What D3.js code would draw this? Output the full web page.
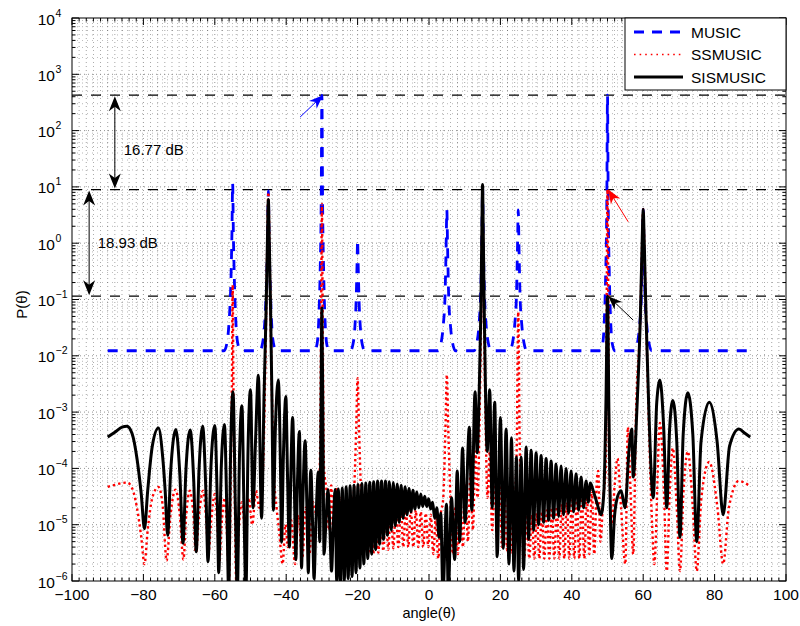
<!DOCTYPE html>
<html>
<head>
<meta charset="utf-8">
<script src="https://cdn.jsdelivr.net/npm/d3@7"></script>
<style>
  body { margin: 0; background: #fff; }
  svg { font-family: "Liberation Sans", Arial, Helvetica, sans-serif; }
</style>
</head>
<body>
<svg id="chart" width="800" height="626"></svg>
<script>
// ---- data ---------------------------------------------------------------
const xTickValues = [-100, -80, -60, -40, -20, 0, 20, 40, 60, 80, 100];
const yExponents = [-6, -5, -4, -3, -2, -1, 0, 1, 2, 3, 4];
const seriesNames = ["MUSIC", "SSMUSIC", "SISMUSIC"];

// MUSIC spectrum: flat floor with narrow peaks
const musicData = [
  [-90, 0.0123], [-57.4, 0.0123], [-56.6, 0.017], [-56.0, 0.04], [-55.5, 0.2], [-55.2, 1.5], [-55.0, 11.5], [-54.8, 1.5], [-54.5, 0.2], [-54.1, 0.04], [-53.6, 0.017], [-52.8, 0.0123],
  [-47.4, 0.0123], [-46.6, 0.017], [-46.0, 0.04], [-45.5, 0.2], [-45.2, 1.2], [-45.0, 8.5], [-44.8, 1.2], [-44.5, 0.2], [-44.1, 0.04], [-43.6, 0.017], [-42.8, 0.0123],
  [-32.0, 0.0123], [-31.3, 0.017], [-30.9, 0.04], [-30.5, 0.3], [-30.2, 5], [-30.0, 425], [-29.8, 5], [-29.5, 0.3], [-29.1, 0.04], [-28.7, 0.017], [-28.0, 0.0123],
  [-22.0, 0.0123], [-21.3, 0.016], [-20.8, 0.03], [-20.4, 0.1], [-20.15, 0.45], [-20.0, 1.15], [-19.85, 0.45], [-19.6, 0.1], [-19.2, 0.03], [-18.7, 0.016], [-18.0, 0.0123],
  [2.6, 0.0123], [3.4, 0.017], [4.0, 0.035], [4.5, 0.12], [4.8, 0.9], [5.0, 3.9], [5.2, 0.9], [5.5, 0.12], [6.0, 0.035], [6.6, 0.017], [7.4, 0.0123],
  [12.6, 0.0123], [13.4, 0.017], [14.0, 0.035], [14.5, 0.15], [14.8, 1.2], [15.0, 10], [15.2, 1.2], [15.5, 0.15], [16.0, 0.035], [16.6, 0.017], [17.4, 0.0123],
  [22.6, 0.0123], [23.4, 0.017], [24.0, 0.035], [24.5, 0.12], [24.8, 0.9], [25.0, 3.9], [25.2, 0.9], [25.5, 0.12], [26.0, 0.035], [26.6, 0.017], [27.4, 0.0123],
  [48.0, 0.0123], [48.7, 0.017], [49.1, 0.04], [49.5, 0.3], [49.8, 5], [50.0, 425], [50.2, 5], [50.5, 0.3], [50.9, 0.04], [51.3, 0.017], [52.0, 0.0123],
  [57.6, 0.0123], [58.4, 0.017], [59.0, 0.035], [59.5, 0.12], [59.8, 0.9], [60.0, 4], [60.2, 0.9], [60.5, 0.12], [61.0, 0.035], [61.6, 0.017], [62.4, 0.0123],
  [90, 0.0123]
];

// SSMUSIC spectrum
const ssmusicData = [
  [-90, 4.7e-5], [-88, 5.1e-5], [-86, 5.5e-5], [-84.6, 5.6e-5], [-83.2, 4.5e-5], [-81.8, 2e-5], [-80.6, 6e-6], [-79.7, 2e-6],
  [-78.8, 8e-6], [-77.5, 3e-5], [-75.8, 4.7e-5], [-74.6, 2.2e-5], [-73.5, 2.3e-6], [-72.4, 1.5e-5], [-71.0, 4.2e-5],
  [-69.8, 1.5e-5], [-68.8, 2.4e-6], [-68.0, 1.5e-5], [-67.0, 4e-5], [-66.0, 1.5e-5], [-65.3, 3.2e-6], [-64.4, 1.5e-5],
  [-63.3, 4e-5], [-62.4, 1.2e-5], [-61.8, 3e-6], [-61.0, 1.2e-5], [-60.0, 3.5e-5], [-59.2, 8e-6], [-58.8, 2e-6],
  [-58.1, 1e-5], [-57.2, 3e-5], [-56.5, 5e-6], [-56.0, 1e-6], [-55.5, 1e-4], [-55.2, 4e-3], [-55.0, 0.18], [-54.8, 4e-3],
  [-54.5, 1e-4], [-54.0, 1e-6], [-53.2, 1e-5], [-52.4, 2.5e-5], [-51.5, 8e-6], [-50.5, 3e-5], [-49.5, 1e-5], [-48.5, 4e-5],
  [-47.5, 2e-5], [-46.5, 1e-4], [-45.8, 0.01], [-45.3, 1], [-45.0, 8], [-44.7, 1], [-44.2, 0.01], [-43.5, 1e-4],
  [-42.7, 2e-5], [-42.0, 8e-6], [-41.0, 2e-6], [-40.2, 1e-5], [-39.5, 4e-6], [-38.6, 1.2e-5], [-37.5, 2e-6], [-36.6, 1.5e-5],
  [-35.5, 2.5e-6], [-34.5, 2e-5], [-33.5, 3e-6], [-32.5, 2.5e-5], [-31.5, 1.5e-5], [-30.6, 1e-4], [-30.25, 0.02], [-30.0, 5],
  [-29.75, 0.02], [-29.4, 1e-4], [-28.7, 4e-5], [-28.0, 8e-6], [-27.4, 5e-5], [-26.8, 6e-6], [-26.0, 4.5e-5], [-25.3, 5e-6],
  [-24.6, 3e-5], [-23.9, 4e-6], [-23.2, 2.5e-5], [-22.5, 3.5e-6], [-21.7, 2e-5], [-21.0, 4e-5], [-20.4, 5e-4], [-20.0, 4e-3],
  [-19.6, 5e-4], [-19.0, 3e-5], [-18.4, 3e-6], [-17.7, 1.5e-5], [-17.0, 3e-6], [-16.3, 1.6e-5], [-15.6, 3e-6], [-14.9, 1.7e-5],
  [-14.2, 3.2e-6], [-13.5, 1.8e-5], [-12.8, 3.4e-6], [-12.1, 1.9e-5], [-11.4, 3.6e-6], [-10.7, 2e-5], [-10.0, 3.8e-6], [-9.3, 2e-5],
  [-8.6, 4e-6], [-7.9, 2e-5], [-7.2, 4e-6], [-6.5, 2e-5], [-5.8, 4e-6], [-5.1, 1.9e-5], [-4.4, 4e-6], [-3.7, 1.8e-5],
  [-3.0, 4e-6], [-2.3, 1.7e-5], [-1.6, 4e-6], [-0.9, 1.6e-5], [-0.2, 4e-6], [0.5, 1.5e-5], [1.2, 3e-6], [1.9, 1.3e-5],
  [2.6, 2.5e-6], [3.3, 1.5e-5], [4.0, 3e-5], [4.6, 5e-4], [5.0, 4.6e-3], [5.4, 5e-4], [6.0, 3e-5], [6.7, 3e-6], [7.4, 2e-5],
  [8.1, 3e-6], [8.8, 3e-5], [9.5, 4e-6], [10.2, 5e-5], [10.9, 5e-6], [11.6, 8e-5], [12.3, 8e-6], [13.0, 2e-4], [13.6, 3e-5],
  [14.2, 1e-3], [14.6, 0.05], [15.0, 3], [15.4, 0.05], [15.8, 1e-3], [16.4, 3e-5], [17.0, 2e-4], [17.7, 8e-6], [18.4, 8e-5],
  [19.1, 5e-6], [19.8, 5e-5], [20.5, 4e-6], [21.2, 3.5e-5], [21.9, 3.5e-6], [22.6, 2.5e-5], [23.3, 3e-6], [24.0, 2e-5],
  [24.6, 3e-4], [25.0, 0.06], [25.4, 3e-4], [26.0, 2e-5], [26.7, 2.5e-6], [27.4, 1.5e-5], [28.1, 2.5e-6], [28.8, 1.5e-5],
  [29.5, 2.5e-6], [30.2, 1.6e-5], [30.9, 2.5e-6], [31.6, 1.7e-5], [32.3, 2.5e-6], [33.0, 1.8e-5], [33.7, 2.5e-6], [34.4, 2e-5],
  [35.1, 2.5e-6], [35.8, 2.1e-5], [36.5, 2.5e-6], [37.2, 2.3e-5], [37.9, 2.5e-6], [38.6, 2.5e-5], [39.3, 2.5e-6], [40.0, 2.7e-5],
  [40.7, 2.5e-6], [41.4, 3e-5], [42.1, 2.5e-6], [42.8, 3.3e-5], [43.5, 2.5e-6], [44.2, 3.6e-5], [44.9, 3e-6], [45.6, 4e-5],
  [46.3, 3e-6], [47.0, 6e-5], [47.4, 9e-5], [48.0, 5e-6], [48.8, 3e-5], [49.5, 1e-4], [49.75, 0.05], [50.0, 8.95],
  [50.25, 0.05], [50.5, 1e-4], [51.2, 1e-5], [52.0, 5e-5], [52.8, 1.5e-4], [53.8, 2e-5], [55.0, 2e-6], [55.7, 5.4e-4],
  [56.4, 5e-5], [57.2, 3e-6], [58.0, 1e-3], [59.2, 0.05], [59.7, 1], [60.0, 4], [60.3, 1], [60.8, 0.05], [61.5, 1e-3],
  [62.5, 1e-5], [63.1, 2e-6], [64.7, 6.4e-4], [65.8, 4e-5], [66.6, 1.5e-6], [67.5, 5e-5], [68.3, 2.3e-4], [69.4, 2e-5],
  [70.3, 1.5e-6], [71.3, 4e-5], [72.5, 2e-4], [73.9, 2e-5], [75.0, 1.5e-6], [76.3, 3e-5], [78.5, 1.3e-4], [80.8, 2e-5],
  [82.4, 2e-6], [84.0, 2e-5], [86.8, 6e-5], [88.5, 5.5e-5], [90, 4.8e-5]
];

// SISMUSIC spectrum
const sismusicData = [
  [-90, 3.6e-4], [-88, 4.4e-4], [-86, 5.4e-4], [-84.6, 5.6e-4], [-83.2, 4.2e-4], [-81.8, 1.5e-4], [-80.6, 3.5e-5], [-79.7, 8.5e-6],
  [-78.8, 4e-5], [-77.5, 2.5e-4], [-75.8, 5.2e-4], [-74.6, 1.6e-4], [-73.9, 4e-5], [-73.2, 6.5e-6], [-72.4, 8e-5], [-70.9, 4.9e-4],
  [-69.8, 8e-5], [-68.9, 4.7e-6], [-68.1, 9e-5], [-66.9, 4.8e-4], [-65.9, 6e-5], [-65.2, 3.3e-6], [-64.4, 1e-4], [-63.4, 5.6e-4],
  [-62.5, 4e-5], [-61.9, 2.2e-6], [-61.1, 1e-4], [-60.0, 5.8e-4], [-59.3, 2.5e-5], [-58.9, 1.4e-6], [-58.2, 1e-4], [-57.3, 6e-4],
  [-56.6, 1.5e-5], [-56.1, 6e-7], [-55.6, 1.5e-4], [-54.9, 2.3e-3], [-54.2, 1.5e-5], [-53.7, 6e-7], [-53.1, 1.5e-4], [-52.4, 1.3e-3],
  [-51.8, 1.5e-5], [-51.3, 6e-7], [-50.7, 2e-4], [-50.0, 2.5e-3], [-49.3, 2e-5], [-48.6, 3e-4], [-47.8, 4.5e-3], [-46.9, 1.3e-5],
  [-46.2, 2e-3], [-45.6, 0.08], [-45.25, 1.2], [-45.0, 6], [-44.75, 1.2], [-44.4, 0.08], [-44.0, 2e-3], [-43.6, 1.8e-5],
  [-43.0, 6e-4], [-42.2, 3.7e-3], [-41.6, 1e-4], [-41.3, 4.9e-6], [-40.8, 1.5e-4], [-40.1, 1.9e-3], [-39.6, 6e-5], [-39.1, 4e-6],
  [-38.7, 8e-5], [-38.2, 8e-4], [-37.7, 4e-5], [-37.3, 2.4e-6], [-36.9, 4e-5], [-36.3, 4.5e-4], [-36.0, 3e-5], [-35.7, 1.7e-6],
  [-35.3, 3e-5], [-34.7, 3.1e-4], [-34.2, 2e-5], [-33.8, 1.4e-6], [-33.5, 1.5e-5], [-33.1, 9.3e-5], [-32.6, 1e-5], [-32.2, 1.1e-6],
  [-31.7, 1e-5], [-31.0, 8.6e-5], [-30.6, 5e-6], [-30.3, 5e-4], [-30.0, 0.07], [-29.7, 5e-4], [-29.4, 3e-6], [-28.9, 1e-5],
  [-28.3, 4.2e-5], [-27.8, 1e-5], [-27.3, 1.5e-6], [-26.8, 1e-5], [-26.3, 4.2e-5], [-25.85, 1.0e-6],
  [-25.4, 4.3e-5], [-24.85, 9e-7], [-24.3, 4.5e-5], [-23.75, 1.0e-6], [-23.2, 4.7e-5], [-22.65, 1.1e-6], [-22.1, 4.9e-5], [-21.55, 1.2e-6],
  [-21.0, 5.0e-5], [-20.45, 1.4e-6], [-19.9, 5.2e-5], [-19.35, 1.7e-6], [-18.8, 5.4e-5], [-18.25, 2.0e-6], [-17.7, 5.5e-5], [-17.15, 2.5e-6],
  [-16.6, 5.7e-5], [-16.05, 3.0e-6], [-15.5, 5.8e-5], [-14.95, 3.6e-6], [-14.4, 6.0e-5], [-13.85, 4.5e-6], [-13.3, 6.0e-5], [-12.75, 5.5e-6],
  [-12.2, 6.0e-5], [-11.65, 6.5e-6], [-11.1, 5.8e-5], [-10.55, 8.0e-6], [-10.0, 5.6e-5], [-9.45, 9.5e-6], [-8.9, 5.3e-5], [-8.35, 1.1e-5],
  [-7.8, 5.0e-5], [-7.25, 1.3e-5], [-6.7, 4.7e-5], [-6.15, 1.5e-5], [-5.6, 4.4e-5], [-5.05, 1.7e-5], [-4.5, 4.1e-5], [-3.95, 1.9e-5],
  [-3.4, 3.8e-5], [-2.85, 2.0e-5], [-2.3, 3.5e-5], [-1.75, 2.1e-5], [-1.2, 3.2e-5], [-0.65, 2.1e-5], [-0.1, 2.9e-5], [0.45, 1.9e-5],
  [1.0, 2.5e-5], [1.6, 1.3e-5], [2.2, 2.0e-5], [2.8, 6e-6], [3.3, 1.6e-5], [3.9, 6e-7], [4.9, 2.3e-5], [5.4, 6e-7],
  [6.3, 3e-5], [7.2, 2.4e-6], [7.9, 9e-5], [8.6, 5e-6], [9.4, 2.3e-4], [10.1, 1.1e-5], [11.3, 5.4e-4], [12.0, 1.8e-5],
  [12.9, 2.3e-3], [13.5, 1.9e-4], [14.1, 3e-3], [14.5, 0.05],
  [14.8, 1.5], [15.0, 11], [15.2, 1.5], [15.5, 0.05], [15.8, 3e-3], [16.3, 2e-4], [17.0, 2.5e-3], [17.7, 2e-5],
  [18.4, 1.5e-3], [19.1, 2.7e-6], [20.0, 8e-4], [20.8, 3.8e-6], [21.6, 5e-4], [22.4, 2e-6], [23.1, 3.5e-4], [23.8, 1.5e-6],
  [24.5, 1.6e-4], [25.1, 1e-6], [25.8, 1.6e-4], [26.5, 1.6e-6], [27.2, 2.4e-4], [27.9, 5.5e-6], [28.6, 2.1e-4], [29.3, 8e-6],
  [30.0, 1.9e-4], [30.7, 1e-5], [31.4, 1.7e-4], [32.1, 1.1e-5], [32.8, 1.5e-4], [33.5, 1.2e-5], [34.2, 1.35e-4], [34.9, 1.3e-5],
  [35.6, 1.2e-4], [36.3, 1.4e-5], [37.0, 1.1e-4], [37.7, 1.5e-5], [38.4, 1e-4], [39.1, 1.6e-5], [39.8, 9e-5], [40.5, 1.7e-5],
  [41.2, 8e-5], [41.9, 1.8e-5], [42.6, 7e-5], [43.3, 2e-5], [44.0, 6e-5], [44.6, 2.5e-5], [45.2, 5.5e-5], [46.0, 4e-5],
  [47.0, 2.5e-5], [48.2, 1.5e-5], [49.0, 4e-5], [49.6, 2e-3], [50.0, 0.114], [50.4, 1e-3], [51.2, 2.5e-6], [52.0, 1.5e-5],
  [52.6, 2.8e-5], [53.8, 4e-5], [54.9, 2e-5], [56.0, 2e-4], [56.8, 5e-4], [57.2, 7e-5], [58.2, 1e-3], [59.2, 0.05],
  [59.7, 1], [60.0, 4], [60.3, 1], [60.8, 0.05], [61.6, 1e-3], [62.8, 3e-5], [63.8, 1.5e-3], [64.7, 3.7e-3],
  [65.7, 6e-4], [66.6, 2e-5], [67.4, 5e-4], [68.3, 1.6e-3], [69.4, 3e-4], [70.3, 6e-6], [71.2, 4e-4], [72.5, 2.2e-3],
  [73.9, 4e-4], [75.0, 5e-6], [76.2, 3e-4], [78.5, 1.5e-3], [80.7, 3e-4], [82.4, 1.5e-5], [84.2, 2.5e-4], [86.8, 5e-4],
  [88.5, 4.2e-4], [90, 3.6e-4]
];

// reference levels (dashed lines) and annotations, all in data units
const refLevels = [425, 8.95, 0.1144];
const gapArrows = [
  { x: -88.0, from: 425, to: 8.95, label: "16.77 dB", lx: -85.5, ly: 45 },
  { x: -95.2, from: 8.95, to: 0.1144, label: "18.93 dB", lx: -92.8, ly: 1.0 }
];
const pointerArrows = [
  { color: "#0000ff", from: [-36.1, 174], to: [-29.7, 425] },
  { color: "#ff0000", from: [55.8, 2.4], to: [50.2, 8.95] },
  { color: "#000000", from: [57.2, 0.043], to: [50.2, 0.1144] }
];

// ---- layout -------------------------------------------------------------
const svg = d3.select("#chart");
const plot = { left: 72, right: 786, top: 18, bottom: 581 };
const x = d3.scaleLinear().domain([-100, 100]).range([plot.left, plot.right]);
const y = d3.scaleLog().domain([1e-6, 1e4]).range([plot.bottom, plot.top]);

svg.append("defs").append("clipPath").attr("id", "plotClip")
  .append("rect").attr("x", plot.left).attr("y", plot.top)
  .attr("width", plot.right - plot.left).attr("height", plot.bottom - plot.top);

// ---- grid -----------------------------------------------------------------
const grid = svg.append("g");
const minorX = d3.range(-98, 100, 2).filter(v => v % 20 !== 0);
const majorX = xTickValues.filter(v => v > -100 && v < 100);
const minorY = [];
yExponents.slice(0, -1).forEach(e => { for (let k = 2; k <= 9; k++) minorY.push(k * Math.pow(10, e)); });
const majorY = yExponents.slice(1, -1).map(e => Math.pow(10, e));

grid.selectAll(".mx").data(minorX).join("line")
  .attr("x1", d => x(d)).attr("x2", d => x(d)).attr("y1", plot.top).attr("y2", plot.bottom)
  .attr("stroke", "#000").attr("stroke-width", 0.7).attr("stroke-dasharray", "1,3").attr("opacity", 0.5);
grid.selectAll(".my").data(minorY).join("line")
  .attr("x1", plot.left).attr("x2", plot.right).attr("y1", d => y(d)).attr("y2", d => y(d))
  .attr("stroke", "#000").attr("stroke-width", 0.7).attr("stroke-dasharray", "1,4").attr("opacity", 0.4);
grid.selectAll(".Mx").data(majorX).join("line")
  .attr("x1", d => x(d)).attr("x2", d => x(d)).attr("y1", plot.top).attr("y2", plot.bottom)
  .attr("stroke", "#888").attr("stroke-width", 0.9).attr("stroke-dasharray", "1,3");
grid.selectAll(".My").data(majorY).join("line")
  .attr("x1", plot.left).attr("x2", plot.right).attr("y1", d => y(d)).attr("y2", d => y(d))
  .attr("stroke", "#888").attr("stroke-width", 0.9).attr("stroke-dasharray", "1,3");

// ---- reference levels ----------------------------------------------------
svg.append("g").selectAll("line").data(refLevels).join("line")
  .attr("x1", plot.left).attr("x2", plot.right).attr("y1", d => y(d)).attr("y2", d => y(d))
  .attr("stroke", "#000").attr("stroke-width", 1.3).attr("stroke-dasharray", "10,9");

// ---- spectra ------------------------------------------------------------
const line = d3.line().x(d => x(d[0])).y(d => y(d[1])).curve(d3.curveMonotoneX);
const curves = svg.append("g").attr("clip-path", "url(#plotClip)");
curves.append("path").datum(musicData).attr("d", line)
  .attr("fill", "none").attr("stroke", "#0000ff").attr("stroke-width", 2.8).attr("stroke-dasharray", "10,9");
curves.append("path").datum(ssmusicData).attr("d", line)
  .attr("fill", "none").attr("stroke", "#ff0000").attr("stroke-width", 2.4).attr("stroke-dasharray", "2.4,3");
curves.append("path").datum(sismusicData).attr("d", line)
  .attr("fill", "none").attr("stroke", "#000").attr("stroke-width", 3).attr("stroke-linejoin", "round");

// ---- axes box and ticks --------------------------------------------------
const axes = svg.append("g").attr("stroke", "#000").attr("stroke-width", 1);
axes.append("rect").attr("x", plot.left).attr("y", plot.top)
  .attr("width", plot.right - plot.left).attr("height", plot.bottom - plot.top).attr("fill", "none");
const tickX = (vals, len) => {
  vals.forEach(v => {
    axes.append("line").attr("x1", x(v)).attr("x2", x(v)).attr("y1", plot.bottom).attr("y2", plot.bottom - len);
    axes.append("line").attr("x1", x(v)).attr("x2", x(v)).attr("y1", plot.top).attr("y2", plot.top + len);
  });
};
const tickY = (vals, len) => {
  vals.forEach(v => {
    axes.append("line").attr("y1", y(v)).attr("y2", y(v)).attr("x1", plot.left).attr("x2", plot.left + len);
    axes.append("line").attr("y1", y(v)).attr("y2", y(v)).attr("x1", plot.right).attr("x2", plot.right - len);
  });
};
tickX(xTickValues, 7);
tickX(minorX, 3.5);
tickY(yExponents.map(e => Math.pow(10, e)), 7);
tickY(minorY, 3.5);

// tick labels
const fmtMinus = v => String(v).replace("-", "\u2212");
svg.append("g").selectAll("text").data(xTickValues).join("text")
  .attr("x", d => x(d)).attr("y", plot.bottom + 19).attr("text-anchor", "middle")
  .attr("font-size", 15.5).text(d => fmtMinus(d));
const yl = svg.append("g");
yExponents.forEach(e => {
  const yy = y(Math.pow(10, e));
  yl.append("text").attr("x", 55).attr("y", yy + 6.5).attr("text-anchor", "end")
    .attr("font-size", 15.5).text("10");
  yl.append("text").attr("x", 55.5).attr("y", yy - 1.5).attr("text-anchor", "start")
    .attr("font-size", 10.5).text(fmtMinus(e));
});

// axis titles
svg.append("text").attr("x", x(0)).attr("y", 618).attr("text-anchor", "middle")
  .attr("font-size", 14.5).text("angle(\u03b8)");
svg.append("text").attr("transform", `translate(27,${y(0.1) + 5}) rotate(-90)`)
  .attr("text-anchor", "middle").attr("font-size", 15).text("P(\u03b8)");

// ---- annotations ------------------------------------------------------------
function arrowHead(g, tipX, tipY, fromX, fromY, color, len, half) {
  const a = Math.atan2(tipY - fromY, tipX - fromX);
  const ux = Math.cos(a), uy = Math.sin(a);
  const bx = tipX - ux * len, by = tipY - uy * len;
  const nx = tipX - ux * len * 0.7, ny = tipY - uy * len * 0.7;
  const pts = [
    [tipX, tipY],
    [bx - uy * half, by + ux * half],
    [nx, ny],
    [bx + uy * half, by - ux * half]
  ];
  g.append("path").attr("d", "M" + pts.map(p => p.join(",")).join("L") + "Z")
    .attr("fill", color).attr("stroke", "none");
}
const ann = svg.append("g");
gapArrows.forEach(a => {
  const xx = x(a.x), y1 = y(a.from), y2 = y(a.to);
  ann.append("line").attr("x1", xx).attr("x2", xx).attr("y1", y1 + 4).attr("y2", y2 - 4)
    .attr("stroke", "#000").attr("stroke-width", 1);
  arrowHead(ann, xx, y1 + 1, xx, y2, "#000", 15, 6);
  arrowHead(ann, xx, y2 - 1, xx, y1, "#000", 15, 6);
  ann.append("text").attr("x", x(a.lx)).attr("y", y(a.ly) + 5).attr("font-size", 15).text(a.label);
});
pointerArrows.forEach(a => {
  const fx = x(a.from[0]), fy = y(a.from[1]), tx = x(a.to[0]), ty = y(a.to[1]);
  ann.append("line").attr("x1", fx).attr("y1", fy).attr("x2", tx).attr("y2", ty)
    .attr("stroke", a.color).attr("stroke-width", 1);
  arrowHead(ann, tx, ty, fx, fy, a.color, 14, 5.5);
});

// ---- legend -----------------------------------------------------------------
const legend = svg.append("g");
legend.append("rect").attr("x", 625).attr("y", plot.top).attr("width", plot.right - 625).attr("height", 72)
  .attr("fill", "#fff").attr("stroke", "#000").attr("stroke-width", 1);
const legendStyles = [
  { color: "#0000ff", width: 2.8, dash: "10,8" },
  { color: "#ff0000", width: 1.6, dash: "1.6,4" },
  { color: "#000", width: 3.2, dash: null }
];
seriesNames.forEach((name, i) => {
  const yy = 32 + i * 22.5;
  const l = legend.append("line").attr("x1", 634).attr("x2", 683).attr("y1", yy).attr("y2", yy)
    .attr("stroke", legendStyles[i].color).attr("stroke-width", legendStyles[i].width);
  if (legendStyles[i].dash) l.attr("stroke-dasharray", legendStyles[i].dash);
  legend.append("text").attr("x", 691).attr("y", yy + 5.5).attr("font-size", 15.5).text(name);
});
</script>
</body>
</html>
